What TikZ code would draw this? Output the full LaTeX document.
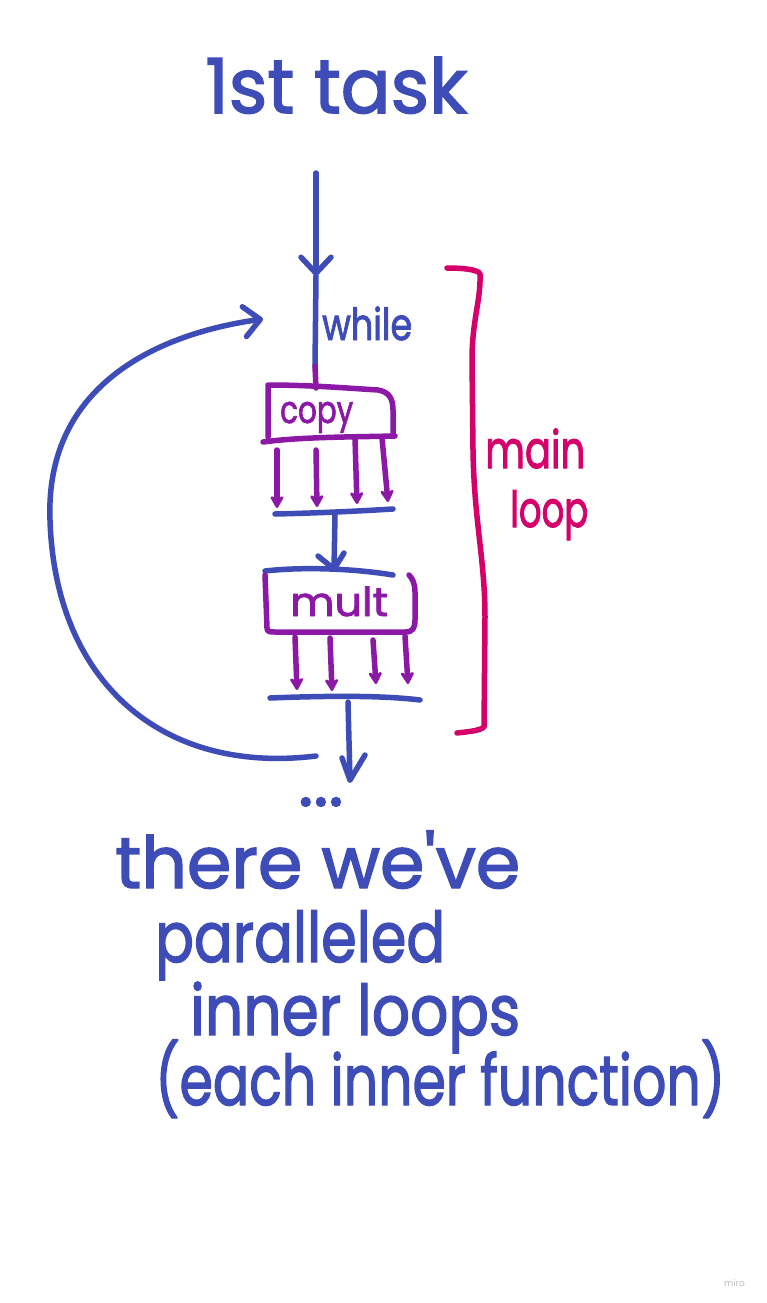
\documentclass[tikz,border=0pt]{standalone}
\usepackage{fontspec}
\usepackage{graphicx}
\setmainfont{Poppins}
\newfontfamily\handfont[FakeBold=2]{Poppins}
\usetikzlibrary{arrows.meta}
\definecolor{pen}{RGB}{62,76,184}
\definecolor{vio}{RGB}{140,24,166}
\definecolor{rose}{RGB}{214,0,106}
\newcommand\handtext[3]{\resizebox{#1}{\height}{\handfont\fontsize{#2}{#2}\selectfont #3}}
\begin{document}
\begin{tikzpicture}[x=1pt,y=-1pt,
  stroke/.style={line width=5.5pt,line cap=round,line join=round},
  bluepen/.style={stroke,draw=pen},
  violetpen/.style={stroke,draw=vio},
  rosepen/.style={stroke,draw=rose},
  barb/.style={-{Straight Barb[length=16pt,width=30pt,line width=5.5pt,round]}},
  vtip/.style={-{Stealth[length=15pt,width=17pt,round,line width=3pt]}},
  lbl/.style={inner sep=0pt,anchor=base west}]
\useasboundingbox (0,0) rectangle (766,1303);
\fill[white] (0,0) rectangle (766,1303);

% texts
\node[lbl,text=pen] (title) at (205,113) {\handtext{262pt}{76}{1st task}};
\node[lbl,text=pen] (whilelbl) at (322,340) {\handtext{90pt}{44}{while}};
\node[lbl,text=vio] (copylbl) at (280,423) {\handtext{73pt}{38}{copy}};
\node[lbl,text=vio] (multlbl) at (290,616) {\handtext{98pt}{40}{mult}};
\node[lbl,text=rose] (mainlbl) at (485,468) {\handtext{100pt}{52}{main}};
\node[lbl,text=rose] (looplbl) at (510,527) {\handtext{78pt}{50}{loop}};
\node[lbl,text=pen] (dots) at (298,806) {\handfont\fontsize{72}{72}\selectfont ...};
\node[lbl,text=pen] (l1) at (115,888) {\handtext{405pt}{72}{there we've}};
\node[lbl,text=pen] (l2) at (155,962) {\handtext{290pt}{70}{paralleled}};
\node[lbl,text=pen] (l3) at (190,1035) {\handtext{330pt}{70}{inner loops}};
\node[lbl,text=pen] (l4) at (155,1105) {\handtext{570pt}{70}{(each inner function)}};
\node[lbl,text=black!25] (miro) at (724,1286) {\fontsize{9}{9}\selectfont miro};

% coordinates
\coordinate (top) at (316,173);
\coordinate (mid) at (316,276);
\coordinate (whileend) at (315,366);
\coordinate (copytop) at (316,388);
\coordinate (bar1L) at (275,514);
\coordinate (bar1R) at (393,509);
\coordinate (bar1mid) at (335,515);
\coordinate (multtopin) at (334,569);
\coordinate (bar2L) at (270,698);
\coordinate (bar2R) at (420,700);
\coordinate (bar2mid) at (348,702);
\coordinate (outtip) at (350,780);
\coordinate (loopstart) at (316,756);
\coordinate (loopend) at (263,319);

% top arrow
\draw[bluepen,barb] (top) -- (mid);
\draw[bluepen] (mid) -- (whileend);
\draw[violetpen] (whileend) -- (copytop);

% copy box
\draw[violetpen] (268,437) -- (268,385) .. controls (310,385) and (345,388) .. (378,390)
  .. controls (390,392) and (393,400) .. (393,410) -- (393,434);
\draw[violetpen] (263,442) .. controls (300,437) and (350,437) .. (395,436);

% copy arrows
\draw[violetpen,vtip] (277,450) -- (277,508);
\draw[violetpen,vtip] (316,450) -- (317,507);
\draw[violetpen,vtip] (355,438) -- (357,504);
\draw[violetpen,vtip] (382,438) -- (388,502);

% bar 1 and arrow to mult
\draw[bluepen] (bar1L) .. controls (320,513) and (360,511) .. (bar1R);
\draw[bluepen] (bar1mid) -- (multtopin);
\draw[bluepen] (318,556) -- (multtopin) -- (344,553);

% mult box
\draw[bluepen] (265,571) .. controls (300,567) and (350,568) .. (393,575);
\draw[violetpen] (265,575) -- (267,628) .. controls (267,632) and (270,632) .. (275,632)
  -- (405,632) .. controls (413,632) and (415,628) .. (415,620) -- (415,592) .. controls (415,583) and (412,578) .. (409,575);

% mult arrows
\draw[violetpen,vtip] (295,637) -- (297,690);
\draw[violetpen,vtip] (330,638) -- (332,691);
\draw[violetpen,vtip] (373,640) -- (376,684);
\draw[violetpen,vtip] (405,636) -- (408,684);

% bar 2 and exit arrow
\draw[bluepen] (bar2L) .. controls (320,696) and (380,695) .. (bar2R);
\draw[bluepen] (bar2mid) -- (outtip);
\draw[bluepen] (342,758) -- (outtip) -- (365,755);

% loop back
\draw[bluepen,barb] (loopstart) .. controls (160,775) and (55,680) .. (50,520)
  .. controls (45,390) and (150,335) .. (loopend);

% main loop bracket
\draw[rosepen] (447,268) .. controls (460,268) and (478,269) .. (480,274)
  .. controls (481,300) and (472,320) .. (472,360) -- (473,450)
  .. controls (474,520) and (485,560) .. (485,617) -- (484,727) .. controls (480,731) and (465,732) .. (457,733);
\end{tikzpicture}
\end{document}
